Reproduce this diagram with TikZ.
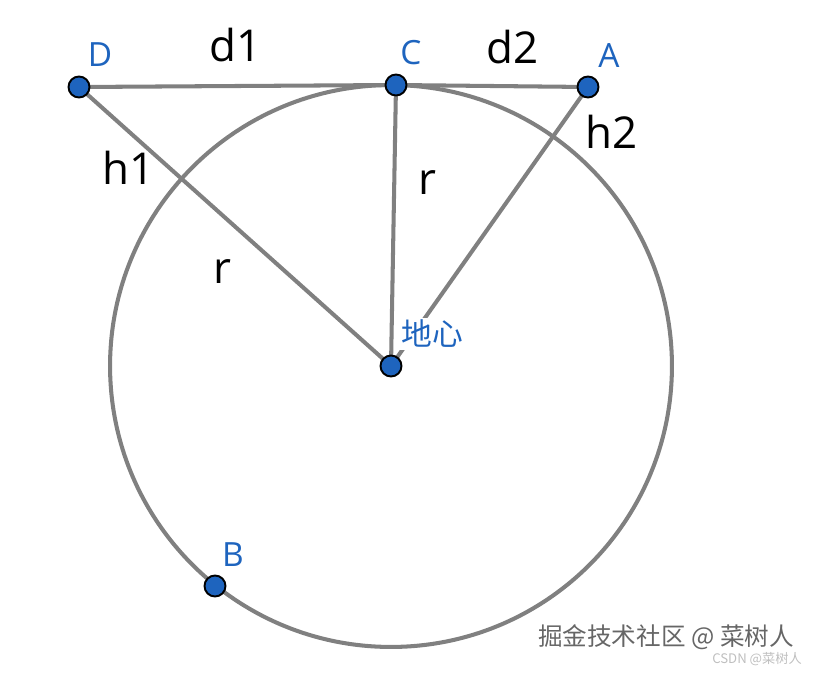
\documentclass[tikz,border=0pt]{standalone}
\usepackage{fontspec}
\setmainfont{Open Sans}
\newfontfamily\cjk{Noto Sans CJK SC}
\definecolor{ptblue}{RGB}{30,100,190}
\definecolor{lngray}{RGB}{128,128,128}

\begin{document}
\begin{tikzpicture}[x=0.02cm,y=-0.02cm,
    pt/.style={circle,draw=black,fill=ptblue,line width=1.1pt,inner sep=0pt,minimum size=0.42cm},
    ptlabel/.style={text=ptblue,font=\fontsize{19}{19}\selectfont},
    lbl/.style={font=\fontsize{25}{25}\selectfont},
    ln/.style={lngray,line width=2.3pt}]
    \useasboundingbox (0,0) rectangle (819,673);

    \coordinate (O) at (391,366);
    \coordinate (D) at (79,87);
    \coordinate (C) at (396,85);
    \coordinate (A) at (588,87);
    \coordinate (B) at (215,586);

    % earth
    \draw[ln] (O) circle[radius=5.62cm];

    % lines
    \draw[ln] (D) -- (C);
    \draw[ln] (C) -- (A);
    \draw[ln] (D) -- (O);
    \draw[ln] (C) -- (O);
    \draw[ln] (A) -- (O);

    % points
    \node[pt] (nD) at (D) {};
    \node[pt] (nC) at (C) {};
    \node[pt] (nA) at (A) {};
    \node[pt] (nB) at (B) {};
    \node[pt] (nO) at (O) {};

    \node[ptlabel] (lD) at (100,55) {D};
    \node[ptlabel] (lC) at (411,53) {C};
    \node[ptlabel] (lA) at (609,56) {A};
    \node[ptlabel] (lB) at (233,555) {B};
    \node[ptlabel,fill=white,inner sep=1pt,font=\cjk\fontsize{17.5}{18}\selectfont] (lO) at (432,334) {地心};

    \node[lbl] (d1) at (236,45) {d1};
    \node[lbl] (d2) at (513,47) {d2};
    \node[lbl] (h1) at (129,168) {h1};
    \node[lbl] (h2) at (612,132) {h2};
    \node[lbl] (r1) at (427,183) {r};
    \node[lbl] (r2) at (222,272) {r};

    % watermark
    \node[text=black!60,font=\cjk\fontsize{14}{14}\selectfont] (wm) at (666,637) {掘金技术社区 @ 菜树人};
    \node[text=black!25,font=\cjk\fontsize{7.5}{8}\selectfont] (wm2) at (757,659) {CSDN @菜树人};
\end{tikzpicture}
\end{document}
